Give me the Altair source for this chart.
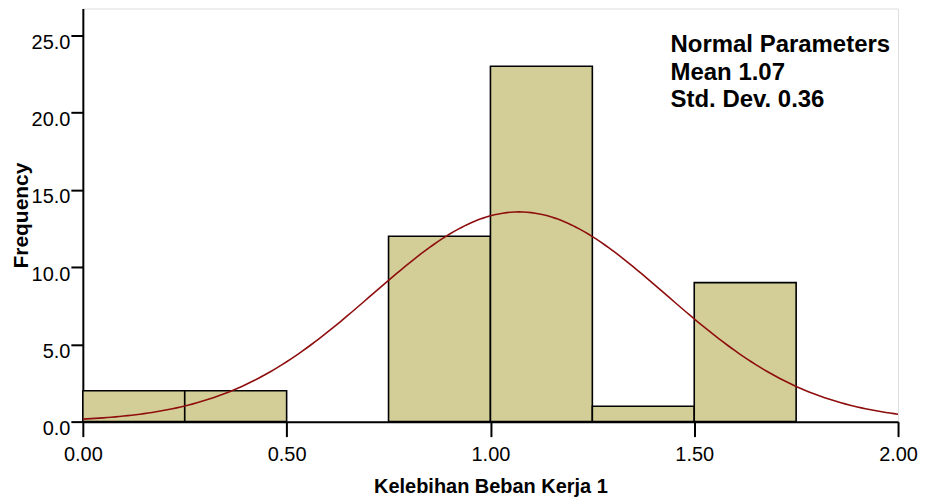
import altair as alt
import numpy as np
import pandas as pd

# Histogram bins (Kelebihan Beban Kerja 1)
bin_start = [0.00, 0.25, 0.75, 1.00, 1.25, 1.50]
bin_end = [0.25, 0.50, 1.00, 1.25, 1.50, 1.75]
counts = [2, 2, 12, 23, 1, 9]

# Normal parameters as printed on the chart
MEAN = 1.07
SD = 0.36
BIN_WIDTH = 0.25
N = sum(counts)

x_ticks = [0.0, 0.5, 1.0, 1.5, 2.0]
y_ticks = [0, 5, 10, 15, 20, 25]

bars_df = pd.DataFrame({"start": bin_start, "end": bin_end, "count": counts})

xs = np.linspace(0.0, 2.0, 201)
curve_df = pd.DataFrame({
    "x": xs,
    "y": N * BIN_WIDTH * np.exp(-0.5 * ((xs - MEAN) / SD) ** 2) / (SD * np.sqrt(2 * np.pi)),
})

W, H = 817, 414
FONT = "Liberation Sans"

x_scale = alt.Scale(domain=[0, 2], nice=False, zero=False)
y_scale = alt.Scale(domain=[0, 26.74], nice=False)

x_axis = alt.Axis(
    title="Kelebihan Beban Kerja 1", values=x_ticks, format=".2f", grid=False,
    tickSize=15, labelPadding=8, labelFontSize=20, labelFont=FONT, labelColor="black",
    labelBaseline="top",
    titleFontSize=20, titleFont=FONT, titleFontWeight="bold", titleColor="black",
    titleBaseline="alphabetic", titleY=71, domainWidth=2, tickWidth=2,
    domainColor="black", tickColor="black", labelFlush=False, labelOverlap=False,
)
y_axis = alt.Axis(
    title="Frequency", values=y_ticks, format=".1f", grid=False,
    tickSize=12, labelPadding=1, labelFontSize=20, labelFont=FONT, labelColor="black",
    labelBaseline="top", labelOffset=-3,
    titleFontSize=21, titleFont=FONT, titleFontWeight="bold", titleColor="black",
    titleBaseline="alphabetic", titleX=-55, domainWidth=2, tickWidth=2,
    domainColor="black", tickColor="black", labelFlush=False, labelOverlap=False,
)

bars = alt.Chart(bars_df).mark_rect(
    fill="#D3CE97", stroke="black", strokeWidth=1.6
).encode(
    x=alt.X("start:Q", scale=x_scale, axis=x_axis),
    x2="end:Q",
    y=alt.Y("count:Q", scale=y_scale, axis=y_axis),
    y2=alt.datum(0),
)

curve = alt.Chart(curve_df).mark_line(
    color="#8E0E0E", strokeWidth=1.6, clip=True
).encode(
    x=alt.X("x:Q", scale=x_scale),
    y=alt.Y("y:Q", scale=y_scale),
)

note = alt.Chart(pd.DataFrame({"t": ["Normal Parameters\nMean 1.07\nStd. Dev. 0.36"]})).mark_text(
    align="left", baseline="alphabetic", font=FONT, fontSize=24, fontWeight="bold",
    color="black", lineBreak="\n", lineHeight=27.5,
).encode(
    x=alt.value(589), y=alt.value(44), text="t:N"
)

chart = alt.layer(bars, curve, note).properties(
    width=W, height=H,
    autosize=alt.AutoSizeParams(type="none"),
    padding={"left": 75, "top": 0, "right": 20, "bottom": 78},
).configure_view(
    fill="#EBEBEB", stroke="black", strokeWidth=1.5
).configure(background="white")

chart.save("out.html", embed_options={"renderer": "svg", "actions": False})
